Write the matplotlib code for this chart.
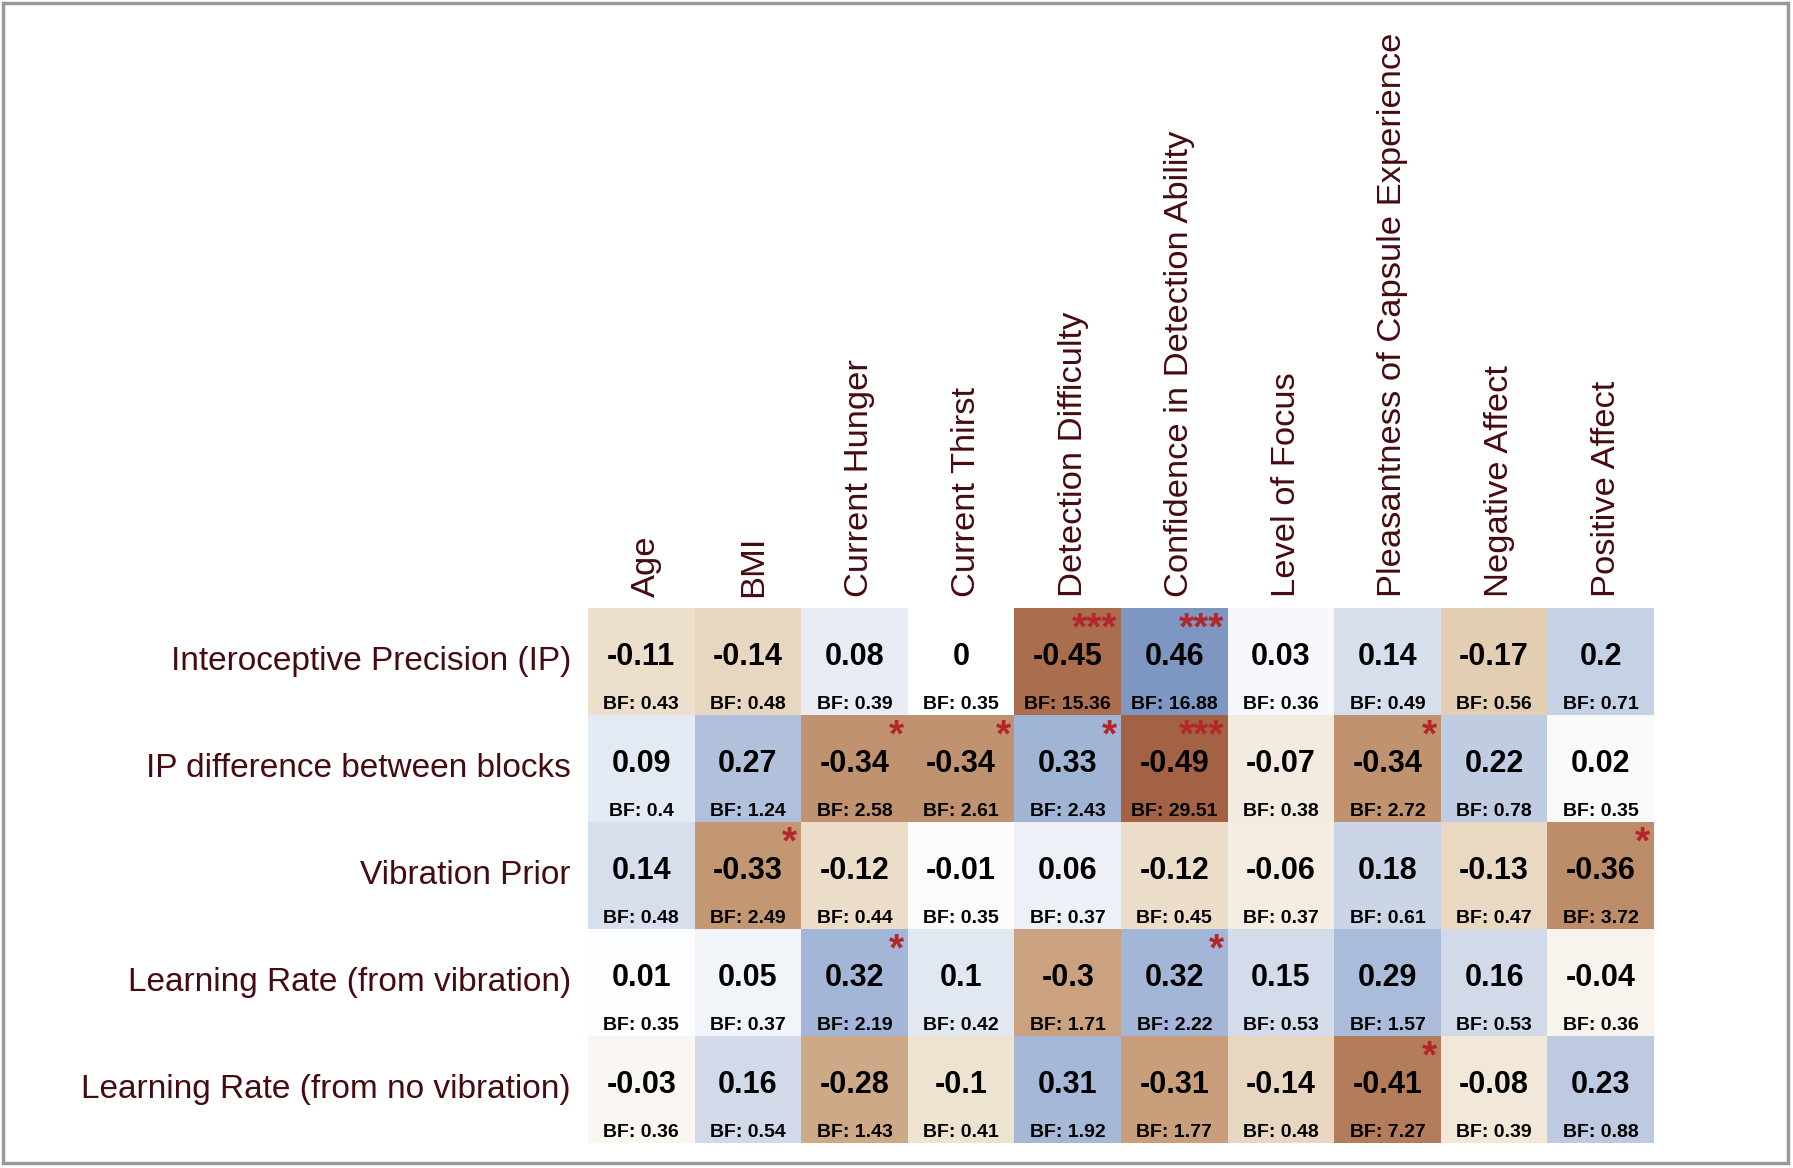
import numpy as np
import matplotlib
matplotlib.use('Agg')
import matplotlib.pyplot as plt
from matplotlib.colors import LinearSegmentedColormap
from matplotlib.patches import Rectangle

plt.rcParams['font.family'] = ['Liberation Sans', 'DejaVu Sans']

row_labels = ['Interoceptive Precision (IP)', 'IP difference between blocks', 'Vibration Prior',
              'Learning Rate (from vibration)', 'Learning Rate (from no vibration)']
col_labels = ['Age', 'BMI', 'Current Hunger', 'Current Thirst', 'Detection Difficulty',
              'Confidence in Detection Ability', 'Level of Focus', 'Pleasantness of Capsule Experience',
              'Negative Affect', 'Positive Affect']

r_values = [
    [-0.11, -0.14, 0.08, 0, -0.45, 0.46, 0.03, 0.14, -0.17, 0.2],
    [0.09, 0.27, -0.34, -0.34, 0.33, -0.49, -0.07, -0.34, 0.22, 0.02],
    [0.14, -0.33, -0.12, -0.01, 0.06, -0.12, -0.06, 0.18, -0.13, -0.36],
    [0.01, 0.05, 0.32, 0.1, -0.3, 0.32, 0.15, 0.29, 0.16, -0.04],
    [-0.03, 0.16, -0.28, -0.1, 0.31, -0.31, -0.14, -0.41, -0.08, 0.23],
]
bf_values = [
    ['0.43', '0.48', '0.39', '0.35', '15.36', '16.88', '0.36', '0.49', '0.56', '0.71'],
    ['0.4', '1.24', '2.58', '2.61', '2.43', '29.51', '0.38', '2.72', '0.78', '0.35'],
    ['0.48', '2.49', '0.44', '0.35', '0.37', '0.45', '0.37', '0.61', '0.47', '3.72'],
    ['0.35', '0.37', '2.19', '0.42', '1.71', '2.22', '0.53', '1.57', '0.53', '0.36'],
    ['0.36', '0.54', '1.43', '0.41', '1.92', '1.77', '0.48', '7.27', '0.39', '0.88'],
]
stars = [
    ['', '', '', '', '***', '***', '', '', '', ''],
    ['', '', '*', '*', '*', '***', '', '*', '', ''],
    ['', '*', '', '', '', '', '', '', '', '*'],
    ['', '', '*', '', '', '*', '', '', '', ''],
    ['', '', '', '', '', '', '', '*', '', ''],
]

nodes = [(-0.5, (160, 95, 65)), (-0.35, (192, 144, 108)), (-0.2, (222, 198, 168)),
         (-0.1, (238, 226, 208)), (0.0, (255, 255, 255)), (0.1, (226, 232, 242)),
         (0.2, (198, 209, 228)), (0.33, (160, 180, 214)), (0.5, (115, 142, 188))]
cmap = LinearSegmentedColormap.from_list(
    'bf', [((v + 0.5), tuple(c / 255 for c in col)) for v, col in nodes])

label_color = '#440c10'
star_color = '#b3262c'

fig = plt.figure(figsize=(17.93, 11.68), dpi=100)
fig.patches.append(Rectangle((3 / 1793, 5 / 1168), 1785 / 1793, 1160 / 1168, transform=fig.transFigure,
                             fill=False, edgecolor='#999999', linewidth=2.5))

ax = fig.add_axes([588 / 1793, 25 / 1168, 1066 / 1793, 535 / 1168])
data = np.array(r_values)
ax.pcolormesh(np.arange(11), np.arange(6), data, cmap=cmap, vmin=-0.5, vmax=0.5)
ax.set_xlim(0, 10)
ax.set_ylim(5, 0)
ax.axis('off')

for i in range(5):
    for j in range(10):
        ax.text(j + 0.5, i + 0.46, f'{r_values[i][j]:g}', ha='center', va='center',
                fontsize=22, fontweight='bold', color='black')
        ax.text(j + 0.5, i + 0.90, 'BF: ' + bf_values[i][j], ha='center', va='center',
                fontsize=14, fontweight='bold', color='black')
        if stars[i][j]:
            ax.text(j + 0.965, i + 0.20, stars[i][j], ha='right', va='center',
                    fontsize=28, fontweight='bold', color=star_color)

for i, lab in enumerate(row_labels):
    ax.text(-0.16, i + 0.5, lab, ha='right', va='center', fontsize=24, color=label_color,
            clip_on=False)

for j, lab in enumerate(col_labels):
    ax.text(j + 0.55, -0.1, lab, ha='center', va='bottom', rotation=90, fontsize=24.8,
            color=label_color, clip_on=False)

fig.savefig('out.png', dpi=100)
